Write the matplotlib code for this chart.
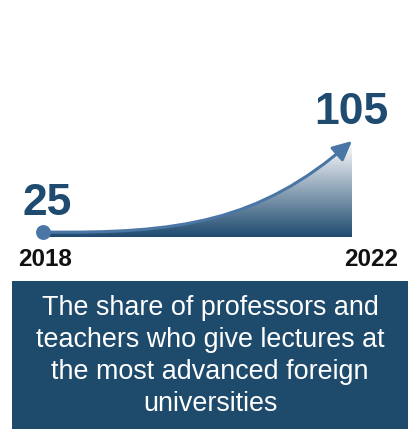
import numpy as np
import matplotlib
matplotlib.use("Agg")
import matplotlib.pyplot as plt
from matplotlib.path import Path
from matplotlib.patches import FancyArrowPatch, PathPatch, Rectangle
from matplotlib.colors import LinearSegmentedColormap

# data
years = [2018, 2022]
values = [25, 105]
year_labels = ["2018", "2022"]
value_labels = ["25", "105"]
caption = ("The share of professors and\nteachers who give lectures at\n"
           "the most advanced foreign\nuniversities")

plt.rcParams['font.family'] = ['Liberation Sans', 'DejaVu Sans']

navy = "#1f4b70"
line_color = "#4a76a6"

W, H = 411, 438
fig = plt.figure(figsize=(W / 100, H / 100), dpi=100)
ax = fig.add_axes([0, 0, 1, 1])
ax.axis("off")

# pixel positions of the start point and the arrow tip
x0_px, x1_px = 43, 352
y0_px, y1_px = 232, 141
sx = (years[1] - years[0]) / (x1_px - x0_px)
sy = (values[1] - values[0]) / (y0_px - y1_px)
ax.set_xlim(years[0] - x0_px * sx, years[0] + (W - x0_px) * sx)
ax.set_ylim(values[0] - (H - y0_px) * sy, values[0] + y0_px * sy)

dx = years[1] - years[0]
dy = values[1] - values[0]
p0 = (years[0], values[0])
p1 = (years[0] + 0.44 * dx, values[0] - 0.02 * dy)
p2 = (years[0] + 0.70 * dx, values[0] + 0.11 * dy)
p3 = (years[1], values[1])
base = values[0] - 0.055 * dy

curve = Path([p0, p1, p2, p3],
             [Path.MOVETO, Path.CURVE4, Path.CURVE4, Path.CURVE4])

# gradient fill under the curve
fill_path = Path([p0, p1, p2, p3, (years[1], base), (years[0], base), p0],
                 [Path.MOVETO, Path.CURVE4, Path.CURVE4, Path.CURVE4,
                  Path.LINETO, Path.LINETO, Path.CLOSEPOLY])
clip = PathPatch(fill_path, facecolor="none", edgecolor="none")
ax.add_patch(clip)
cmap = LinearSegmentedColormap.from_list("fade", ["#ffffff", navy])
grad = np.linspace(0, 1, 256).reshape(-1, 1)
top = values[1] - 0.02 * dy
img = ax.imshow(grad, cmap=cmap, aspect="auto", origin="upper",
                extent=[years[0], years[1], base, top], zorder=2)
img.set_clip_path(clip)

arrow = FancyArrowPatch(path=curve, arrowstyle="-|>,head_length=0.58,head_width=0.28",
                        mutation_scale=20, color=line_color, lw=2.2,
                        shrinkA=0, shrinkB=0, zorder=3)
ax.add_patch(arrow)

ax.scatter([years[0]], [values[0]], s=115, color=line_color, zorder=4,
           linewidths=0)

# value labels
ax.annotate(value_labels[0], (years[0], values[0]), xytext=(2.9, 12.2),
            textcoords="offset points", ha="center", va="baseline",
            fontsize=32, fontweight="bold", color=navy)
ax.annotate(value_labels[1], (years[1], values[1]), xytext=(-0.4, 12.2),
            textcoords="offset points", ha="center", va="baseline",
            fontsize=32, fontweight="bold", color=navy)

# year labels
ax.annotate(year_labels[0], (years[0], values[0]), xytext=(1.2, -24.5),
            textcoords="offset points", ha="center", va="baseline",
            fontsize=17.5, fontweight="bold", color="#111111")
ax.annotate(year_labels[1], (years[1], values[0]), xytext=(13.5, -24.5),
            textcoords="offset points", ha="center", va="baseline",
            fontsize=17.5, fontweight="bold", color="#111111")

# caption box
box = Rectangle((12 / W, 1 - 429 / H), (408 - 12) / W, (429 - 281) / H,
                transform=fig.transFigure, facecolor="#1e4a6c", edgecolor="none")
fig.patches.append(box)
fig.text(210 / W, 1 - 356 / H, caption, ha="center", va="center",
         color="white", fontsize=19.4, linespacing=1.3)

fig.savefig("out.png", dpi=100)
